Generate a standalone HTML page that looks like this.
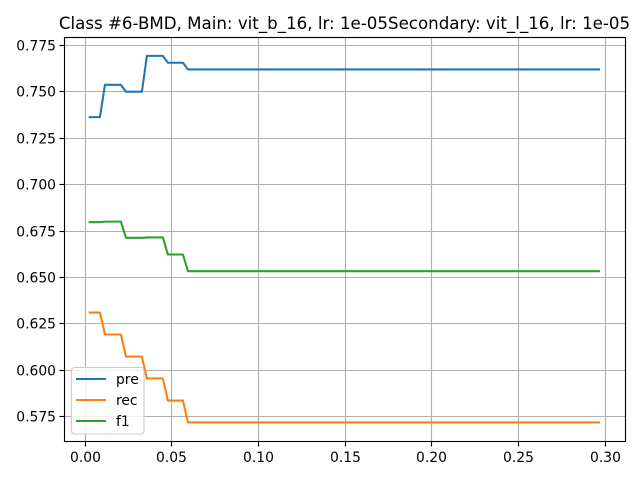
<!DOCTYPE html>
<html>
<head>
<meta charset="utf-8">
<style>
html,body{margin:0;padding:0;background:#fff;width:640px;height:480px;overflow:hidden}
svg{display:block}
text{font-family:"DejaVu Sans",sans-serif;fill:#000}
</style>
</head>
<body>
<svg id="chart" width="640" height="480" viewBox="0 0 640 480" xmlns="http://www.w3.org/2000/svg">
<rect x="0" y="0" width="640" height="480" fill="#fff"/>
<text x="344.5" y="29" font-size="16.67" text-anchor="middle">Class #6-BMD, Main: vit_b_16, lr: 1e-05Secondary: vit_l_16, lr: 1e-05</text>
<g id="grid"></g>
<g id="series"></g>
<rect x="64.5" y="37.5" width="561" height="404" fill="none" stroke="#000" stroke-width="1.11"/>
<g id="ticks"></g>
<g>
<rect x="71.5" y="367.5" width="72.5" height="66.5" rx="3" fill="#fff" fill-opacity="0.8" stroke="#ccc" stroke-width="1.11"/>
<line x1="76" y1="379" x2="106" y2="379" stroke="#1f77b4" stroke-width="2.08"/>
<text x="116" y="384" font-size="13.89">pre</text>
<line x1="76" y1="400" x2="106" y2="400" stroke="#ff7f0e" stroke-width="2.08"/>
<text x="116" y="405" font-size="13.89">rec</text>
<line x1="76" y1="421" x2="106" y2="421" stroke="#2ca02c" stroke-width="2.08"/>
<text x="116" y="426" font-size="13.89">f1</text>
</g>
</svg>
<script>
const xTicks = [0, 0.05, 0.10, 0.15, 0.20, 0.25, 0.30];
const xTickLabels = ["0.00", "0.05", "0.10", "0.15", "0.20", "0.25", "0.30"];
const yTicks = [0.575, 0.600, 0.625, 0.650, 0.675, 0.700, 0.725, 0.750, 0.775];
const yTickLabels = ["0.575", "0.600", "0.625", "0.650", "0.675", "0.700", "0.725", "0.750", "0.775"];
const thresholds = [0.002, 0.0085, 0.0114, 0.0206, 0.0235, 0.0327, 0.0356, 0.0448, 0.0477, 0.0564, 0.0593, 0.297];
const pre = [0.7364, 0.7364, 0.7538, 0.7538, 0.7501, 0.7501, 0.7694, 0.7694, 0.7657, 0.7657, 0.7621, 0.7621];
const rec = [0.6311, 0.6311, 0.6193, 0.6193, 0.6074, 0.6074, 0.5956, 0.5956, 0.5837, 0.5837, 0.5719, 0.5719];
const f1 = [0.6798, 0.6798, 0.6801, 0.6801, 0.6714, 0.6714, 0.6716, 0.6716, 0.6624, 0.6624, 0.6534, 0.6534];

const NS = 'http://www.w3.org/2000/svg';
const xScale = v => 85.2 + (v / 0.05) * 86.67;
const yScale = v => 416.7 - ((v - 0.575) / 0.025) * 46.4;
const gridG = document.getElementById('grid');
const tickG = document.getElementById('ticks');
const seriesG = document.getElementById('series');

function makeLine(x1, y1, x2, y2, color, width) {
  const l = document.createElementNS(NS, 'line');
  l.setAttribute('x1', x1);
  l.setAttribute('y1', y1);
  l.setAttribute('x2', x2);
  l.setAttribute('y2', y2);
  l.setAttribute('stroke', color);
  l.setAttribute('stroke-width', width);
  return l;
}
function makeText(x, y, str, anchor) {
  const t = document.createElementNS(NS, 'text');
  t.setAttribute('x', x);
  t.setAttribute('y', y);
  t.setAttribute('font-size', '13.89');
  t.setAttribute('text-anchor', anchor);
  t.textContent = str;
  return t;
}

xTicks.forEach((v, i) => {
  const px = Math.floor(xScale(v)) + 0.5;
  const g = makeLine(px, 37.5, px, 441.5, '#b0b0b0', 1.11);
  
  
  gridG.appendChild(g);
  const m = makeLine(px, 441.5, px, 446.5, '#000', 1.11);
  
  
  tickG.appendChild(m);
  const t = makeText(px, 462, xTickLabels[i], 'middle');
  
  
  tickG.appendChild(t);
});

yTicks.forEach((v, i) => {
  const py = Math.floor(yScale(v)) + 0.5;
  const g = makeLine(64.5, py, 625.5, py, '#b0b0b0', 1.11);
  
  
  gridG.appendChild(g);
  const m = makeLine(59.5, py, 64.5, py, '#000', 1.11);
  
  
  tickG.appendChild(m);
  const t = makeText(56, py + 5, yTickLabels[i], 'end');
  
  
  tickG.appendChild(t);
});

function drawSeries(values, color, name) {
  const p = document.createElementNS(NS, 'polyline');
  p.setAttribute('points', values.map((v, i) => xScale(thresholds[i]).toFixed(2) + ',' + yScale(v).toFixed(2)).join(' '));
  p.setAttribute('fill', 'none');
  p.setAttribute('stroke', color);
  p.setAttribute('stroke-width', '2.08');
  p.setAttribute('stroke-linejoin', 'round');
  
  
  seriesG.appendChild(p);
}
drawSeries(pre, '#1f77b4', 'series-pre');
drawSeries(rec, '#ff7f0e', 'series-rec');
drawSeries(f1, '#2ca02c', 'series-f1');
</script>
</body>
</html>
